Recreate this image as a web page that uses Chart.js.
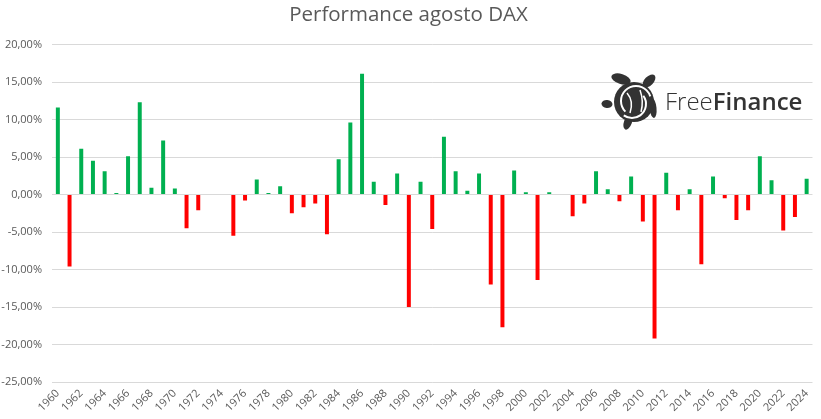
<!DOCTYPE html>
<html>
<head>
<meta charset="utf-8">
<script src="https://cdn.jsdelivr.net/npm/chart.js@4/dist/chart.umd.min.js"></script>
<style>
  html, body { margin: 0; padding: 0; background: #ffffff; }
  #wrap { width: 821px; height: 419px; position: relative; }
</style>
</head>
<body>
<div id="wrap"><canvas id="c"></canvas></div>
<script>
const years = [];
for (let y = 1960; y <= 2024; y++) years.push(String(y));

// August DAX performance (%)
const perf = [
  11.6, -9.6, 6.1, 4.5, 3.1, 0.2, 5.1, 12.3, 0.9, 7.2,   // 1960-1969
  0.8, -4.5, -2.1, 0.0, 0.0, -5.5, -0.8, 2.0, 0.2, 1.1,  // 1970-1979
  -2.5, -1.7, -1.2, -5.3, 4.7, 9.6, 16.1, 1.7, -1.4, 2.8, // 1980-1989
  -15.0, 1.7, -4.6, 7.7, 3.1, 0.5, 2.8, -12.0, -17.7, 3.2, // 1990-1999
  0.3, -11.4, 0.3, 0.0, -2.9, -1.2, 3.1, 0.7, -0.9, 2.4,  // 2000-2009
  -3.6, -19.2, 2.9, -2.1, 0.7, -9.3, 2.4, -0.5, -3.4, -2.1, // 2010-2019
  5.1, 1.9, -4.8, -3.0, 2.1                               // 2020-2024
];

const yTicks = [20, 15, 10, 5, 0, -5, -10, -15, -20, -25];
const titleText = 'Performance agosto DAX';
const logoParts = ['Free', 'Finance'];

const GREEN = '#00B050';
const RED = '#FF0000';
const TXT = '#595959';

const logoPlugin = {
  id: 'logo',
  afterDraw(chart) {
    const ctx = chart.ctx;
    ctx.save();
    const dark = '#333333';
    ctx.fillStyle = dark;
    function ell(x, y, rx, ry, rot) {
      ctx.beginPath();
      ctx.ellipse(x, y, rx, ry, rot, 0, Math.PI * 2);
      ctx.fill();
    }
    ell(621, 79, 10, 5, 0.3);       // front-left flipper
    ell(649, 81, 8, 4.5, -0.8);     // front-right flipper
    ell(628, 122, 4, 8, 0.35);      // rear-left flipper
    ell(653, 108, 3.5, 10, -0.1);   // rear-right flipper
    ell(607, 104, 5.5, 4, 0.1);     // head
    ctx.beginPath();
    ctx.arc(634, 102, 20, 0, Math.PI * 2);
    ctx.fill();
    ctx.strokeStyle = '#ffffff';
    ctx.lineWidth = 2;
    ctx.beginPath();
    ctx.arc(636, 101, 15, Math.PI * 0.75, Math.PI * 1.9);
    ctx.stroke();
    ctx.beginPath();
    ctx.arc(632, 104, 14, Math.PI * -0.2, Math.PI * 0.7);
    ctx.stroke();
    ctx.lineWidth = 1.5;
    ctx.beginPath();
    ctx.moveTo(627, 93); ctx.quadraticCurveTo(634, 101, 630, 113);
    ctx.stroke();
    ctx.beginPath();
    ctx.moveTo(640, 90); ctx.quadraticCurveTo(644, 101, 641, 112);
    ctx.stroke();
    ctx.fillStyle = dark;
    ctx.textBaseline = 'alphabetic';
    ctx.textAlign = 'left';
    ctx.font = '300 24px "Open Sans"';
    const w1 = ctx.measureText(logoParts[0]).width;
    ctx.fillText(logoParts[0], 665, 110);
    ctx.font = '600 24px "Open Sans"';
    ctx.fillText(logoParts[1], 665 + w1, 110);
    ctx.restore();
  }
};

new Chart(document.getElementById('c'), {
  type: 'bar',
  data: {
    labels: years,
    datasets: [{
      data: perf,
      backgroundColor: perf.map(v => v >= 0 ? GREEN : RED),
      borderWidth: 0,
      barPercentage: 0.34,
      categoryPercentage: 1.0
    }]
  },
  options: {
    responsive: true,
    maintainAspectRatio: false,
    animation: false,
    layout: { padding: { left: 0, right: 4, top: 0, bottom: 0 } },
    plugins: {
      legend: { display: false },
      tooltip: { enabled: false },
      title: {
        display: true,
        text: titleText,
        color: TXT,
        font: { family: '"Open Sans"', size: 20.5, weight: 'normal' },
        padding: { top: 3, bottom: 17 }
      }
    },
    scales: {
      x: {
        grid: { display: false, drawTicks: false },
        border: { display: false },
        ticks: {
          color: TXT,
          font: { family: '"Open Sans"', size: 11 },
          autoSkip: false,
          minRotation: 45,
          maxRotation: 45,
          padding: 5,
          callback: function(v, i) { return i % 2 === 0 ? years[i] : ''; }
        },
        afterFit(scale) { scale.height = 37; }
      },
      y: {
        min: -25,
        max: 20,
        afterBuildTicks(scale) { scale.ticks = yTicks.map(v => ({ value: v })); },
        grid: { color: '#d9d9d9', drawTicks: false, lineWidth: 1 },
        border: { display: false },
        ticks: {
          color: TXT,
          font: { family: '"Open Sans"', size: 11 },
          padding: 10,
          callback: v => v.toFixed(2).replace('.', ',') + '%'
        },
        afterFit(scale) { scale.width = 52; }
      }
    }
  },
  plugins: [logoPlugin]
});
</script>
</body>
</html>
